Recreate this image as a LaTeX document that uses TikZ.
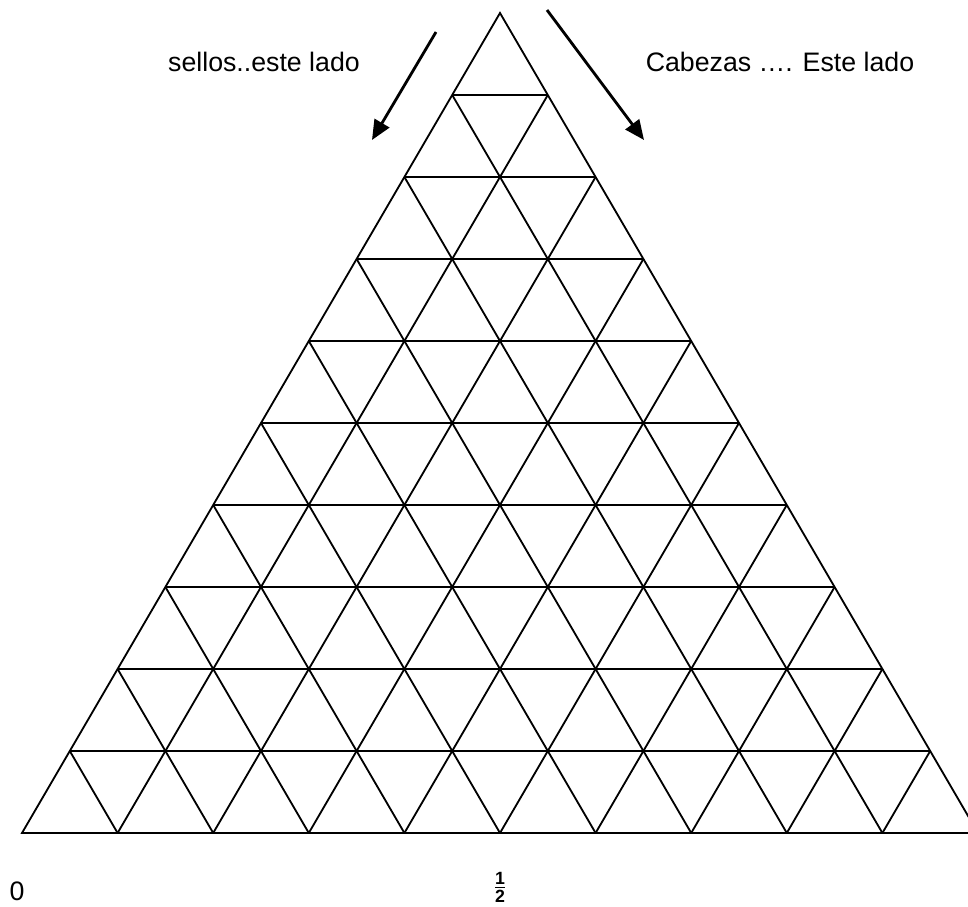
\documentclass[tikz,border=0pt]{standalone}
\usepackage{fontspec}
\setmainfont{Liberation Sans}
\usetikzlibrary{calc,arrows.meta}

\begin{document}
\begin{tikzpicture}[x=0.025cm,y=-0.025cm]
    % Marco de la figura
    \useasboundingbox (0,0) rectangle (968,907);
    \clip (0,0) rectangle (968,907);

    % Vértices del triángulo
    \coordinate (A) at (500,13);
    \coordinate (B) at (22,833);
    \coordinate (C) at (978,833);

    % Triángulo grande
    \draw[line width=1.3pt] (A) -- (B) -- (C) -- cycle;

    % Rejilla de triángulos pequeños
    \foreach \i in {1,...,9} {
        \draw[line width=1.3pt] ($(A)!\i/10!(B)$) -- ($(A)!\i/10!(C)$);
        \draw[line width=1.3pt] ($(A)!\i/10!(C)$) -- ($(B)!\i/10!(C)$);
        \draw[line width=1.3pt] ($(A)!\i/10!(B)$) -- ($(C)!\i/10!(B)$);
    }

    % Flechas
    \coordinate (s1) at (436,32);
    \coordinate (s2) at (372,140);
    \coordinate (c1) at (547,10);
    \coordinate (c2) at (644,140);
    \draw[line width=2pt,-{Triangle[length=14pt,width=12pt]}] (s1) -- (s2);
    \draw[line width=2pt,-{Triangle[length=14pt,width=12pt]}] (c1) -- (c2);

    % Rótulos
    \node (sellos) at (264,62) {\fontsize{19}{22}\selectfont sellos..este lado};
    \node (cabezas) at (780,62) {\fontsize{19}{22}\selectfont Cabezas …. Este lado};
    \node (cero) at (17,891) {\fontsize{19}{22}\selectfont 0};
    \node (medio) at (500,887) {\fontsize{18}{21}\selectfont $\mathbf{\frac{1}{2}}$};
\end{tikzpicture}
\end{document}
